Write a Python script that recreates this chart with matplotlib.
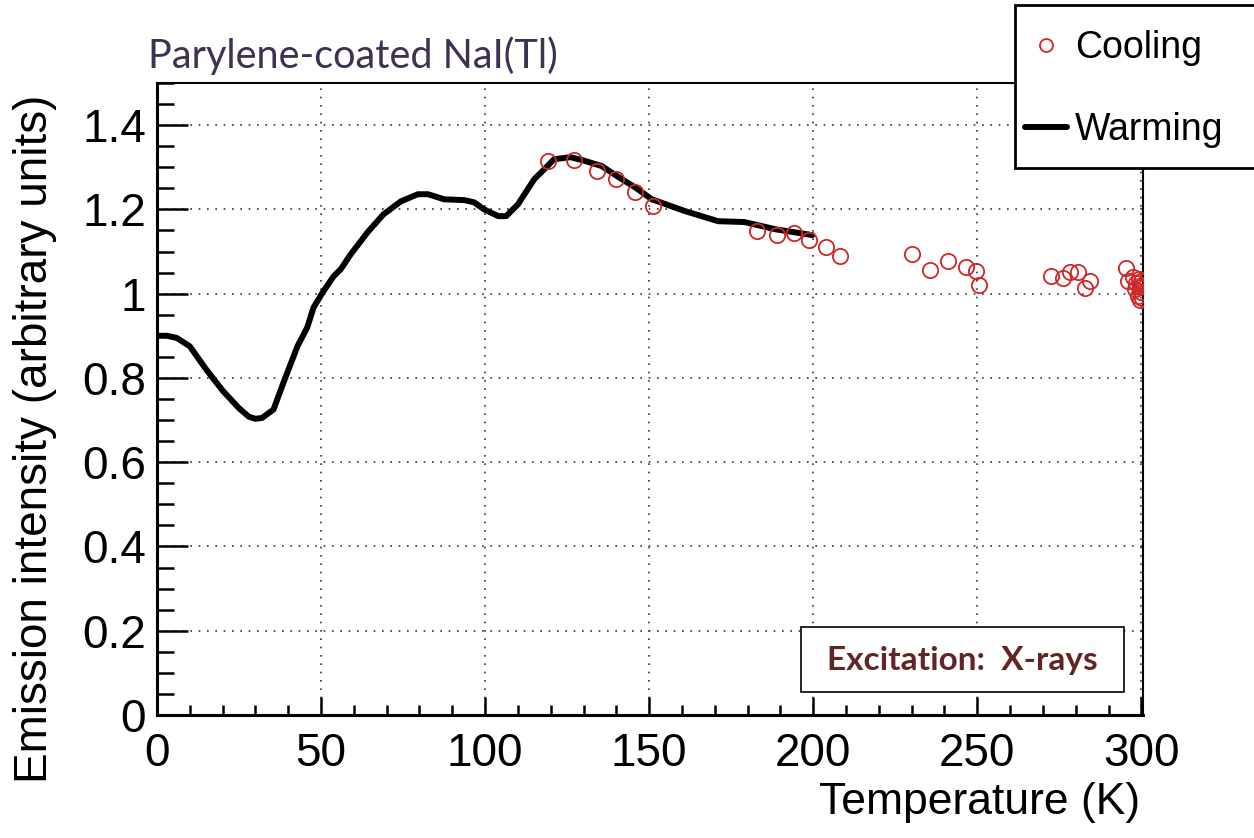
import matplotlib
matplotlib.use("Agg")
import matplotlib.pyplot as plt
from matplotlib.patches import Rectangle
from matplotlib.lines import Line2D
from matplotlib.ticker import MultipleLocator, FormatStrFormatter

# warming curve (solid black line)
warm_T = [0, 3, 6, 10, 15, 20, 25, 28, 30, 32, 35.5, 38.6, 42.8, 45.8, 47.7,
          50.5, 53.8, 56, 59, 64.2, 69, 74.3, 79.5, 82.6, 87.5, 93.6, 96.6,
          99.7, 104, 106.4, 110, 115, 118, 121, 126, 130, 135.5, 141.6, 145.6,
          150.8, 160.9, 171, 179, 188.4, 199.7]
warm_I = [0.90, 0.90, 0.895, 0.875, 0.82, 0.77, 0.728, 0.708, 0.703, 0.705,
          0.725, 0.79, 0.875, 0.92, 0.967, 1.003, 1.041, 1.058, 1.093, 1.146,
          1.188, 1.219, 1.236, 1.236, 1.224, 1.222, 1.217, 1.20, 1.184, 1.184,
          1.212, 1.272, 1.295, 1.319, 1.324, 1.316, 1.303, 1.272, 1.253,
          1.224, 1.196, 1.172, 1.17, 1.153, 1.139]

# cooling measurements (open red circles)
cool_T = [119.3, 127, 134, 140, 145.6, 151.3, 183, 189, 194, 198.8, 204, 208.3,
          230, 235.5, 241, 246.5, 249.5, 250.5, 272.5, 276, 278.3, 280.7, 282.9,
          284.4, 295.4, 296, 297.5, 298, 298.5, 299, 299.3, 299.5, 299.7, 300,
          300, 300.2, 300.3]
cool_I = [1.314, 1.317, 1.29, 1.272, 1.241, 1.208, 1.148, 1.139, 1.143, 1.127,
          1.11, 1.089, 1.093, 1.055, 1.077, 1.063, 1.053, 1.02, 1.041, 1.036,
          1.051, 1.051, 1.013, 1.029, 1.06, 1.03, 1.04, 1.01, 1.025, 0.995,
          1.035, 1.015, 0.985, 1.005, 1.03, 0.99, 1.02]

x_ticks = [0, 50, 100, 150, 200, 250, 300]
y_ticks = [0, 0.2, 0.4, 0.6, 0.8, 1.0, 1.2, 1.4]

fig = plt.figure(figsize=(12.54, 8.38), dpi=100)
ax = fig.add_axes([157 / 1254, 1 - 715 / 838, 986 / 1254, 632 / 838])

ax.plot(warm_T, warm_I, color="black", lw=4.3, solid_capstyle="round",
        label="Warming", zorder=3)
ax.plot(cool_T, cool_I, ls="none", marker="o", ms=11, mfc="none",
        mec="#cf2727", mew=1.3, label="Cooling", zorder=4)

ax.set_xlim(0, 300.5)
ax.set_ylim(0, 1.5)
ax.set_xticks(x_ticks)
ax.set_yticks(y_ticks)
ax.xaxis.set_minor_locator(MultipleLocator(10))
ax.yaxis.set_minor_locator(MultipleLocator(0.05))
ax.yaxis.set_major_formatter(FormatStrFormatter("%g"))

font = "Liberation Sans"
for lab in ax.get_xticklabels() + ax.get_yticklabels():
    lab.set_fontfamily(font)
ax.tick_params(axis="both", which="both", direction="in", width=1.8,
               labelsize=33, top=False, right=False)
ax.tick_params(axis="y", which="major", length=22, pad=8)
ax.tick_params(axis="y", which="minor", length=12)
ax.tick_params(axis="x", which="major", length=13, pad=12)
ax.tick_params(axis="x", which="minor", length=7)

for s in ["left", "bottom"]:
    ax.spines[s].set_linewidth(2.2)
for s in ["top", "right"]:
    ax.spines[s].set_linewidth(1.5)

ax.grid(True, which="major", color="#333333", ls=(0, (1, 4)), lw=1.2)
ax.set_axisbelow(True)

fig.text(1140 / 1254, 1 - 802 / 838, "Temperature (K)", fontsize=32,
         family=font, ha="right", va="center")
fig.text(0.028, 1 - 439 / 838, "Emission intensity (arbitrary units)",
         fontsize=33, family=font, rotation=90, ha="center", va="center")

fig.text(148 / 1254, 1 - 56 / 838, "Parylene-coated NaI(Tl)", fontsize=28.5,
         family="Lato", color="#3f3151", ha="left", va="center")

# excitation box
ax.add_patch(Rectangle((0.653, 0.0364), 0.328, 0.1026, transform=ax.transAxes,
                       fc="white", ec="black", lw=1.2, zorder=5))
ax.text(0.8164, 0.087, "Excitation:  X-rays", transform=ax.transAxes,
        fontsize=24, family="Lato", weight="bold", color="#632523",
        ha="center", va="center", zorder=6)

# legend frame runs off the right edge of the figure (no right border)
lx0, ly0, ly1 = 1015 / 1254, 1 - 168 / 838, 1 - 5 / 838
fig.patches.append(Rectangle((lx0, ly0), 0.5, ly1 - ly0, transform=fig.transFigure,
                             fc="white", ec="none", zorder=1))
fig.lines.append(Line2D([1.05, lx0, lx0, 1.05], [ly1, ly1, ly0, ly0],
                        transform=fig.transFigure, color="black", lw=2.0,
                        solid_joinstyle="miter", zorder=1.5))
handles, labels = ax.get_legend_handles_labels()
leg = fig.legend(handles[::-1], labels[::-1], loc="upper left",
                 bbox_to_anchor=(1025 / 1254, 1 - 30 / 838),
                 prop={"family": font, "size": 27},
                 frameon=False, borderpad=0, labelspacing=1.23,
                 handlelength=1.12, handletextpad=0.22,
                 borderaxespad=0, markerscale=0.85)
leg.set_zorder(2)

fig.savefig("out.png", dpi=100)
